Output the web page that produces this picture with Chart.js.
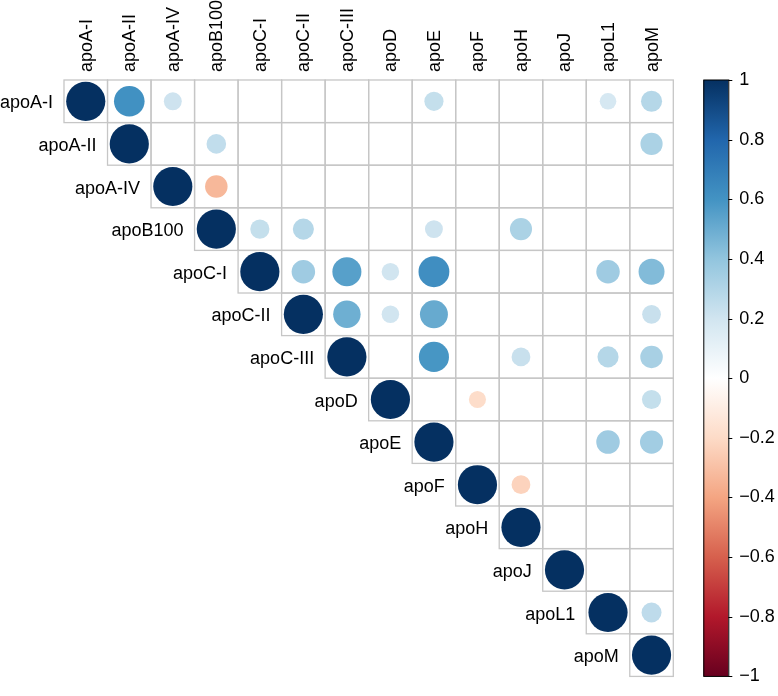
<!DOCTYPE html>
<html><head><meta charset="utf-8">
<script src="https://cdn.jsdelivr.net/npm/chart.js@4/dist/chart.umd.min.js"></script>
<style>html,body{margin:0;padding:0;background:#fff;overflow:hidden}canvas{display:block}</style>
</head><body><canvas id="c" width="778" height="696"></canvas>
<script>
const variables = ['apoA-I','apoA-II','apoA-IV','apoB100','apoC-I','apoC-II','apoC-III','apoD','apoE','apoF','apoH','apoJ','apoL1','apoM'];
// upper-triangle correlations, one array per row (null = blank cell)
const r_apoA_I   = [1, 0.61, 0.21, null, null, null, null, null, 0.24, null, null, null, 0.18, 0.29];
const r_apoA_II  = [null, 1, null, 0.25, null, null, null, null, null, null, null, null, null, 0.32];
const r_apoA_IV  = [null, null, 1, -0.33, null, null, null, null, null, null, null, null, null, null];
const r_apoB100  = [null, null, null, 1, 0.24, 0.29, null, null, 0.21, null, 0.32, null, null, null];
const r_apoC_I   = [null, null, null, null, 1, 0.36, 0.55, 0.20, 0.62, null, null, null, 0.36, 0.44];
const r_apoC_II  = [null, null, null, null, null, 1, 0.49, 0.20, 0.51, null, null, null, null, 0.23];
const r_apoC_III = [null, null, null, null, null, null, 1, null, 0.59, null, 0.23, null, 0.29, 0.33];
const r_apoD     = [null, null, null, null, null, null, null, 1, null, -0.19, null, null, null, 0.24];
const r_apoE     = [null, null, null, null, null, null, null, null, 1, null, null, null, 0.36, 0.35];
const r_apoF     = [null, null, null, null, null, null, null, null, null, 1, -0.23, null, null, null];
const r_apoH     = [null, null, null, null, null, null, null, null, null, null, 1, null, null, null];
const r_apoJ     = [null, null, null, null, null, null, null, null, null, null, null, 1, null, null];
const r_apoL1    = [null, null, null, null, null, null, null, null, null, null, null, null, 1, 0.26];
const r_apoM     = [null, null, null, null, null, null, null, null, null, null, null, null, null, 1];
const rows = [r_apoA_I, r_apoA_II, r_apoA_IV, r_apoB100, r_apoC_I, r_apoC_II, r_apoC_III, r_apoD, r_apoE, r_apoF, r_apoH, r_apoJ, r_apoL1, r_apoM];

const colorbarTickValues = [1, 0.8, 0.6, 0.4, 0.2, 0, -0.2, -0.4, -0.6, -0.8, -1];
const colorbarTickLabels = ['1', '0.8', '0.6', '0.4', '0.2', '0', '\u22120.2', '\u22120.4', '\u22120.6', '\u22120.8', '\u22121'];

// RdBu palette stops from -1 to 1
const paletteStops = ['#67001F','#B2182B','#D6604D','#F4A582','#FDDBC7','#FFFFFF','#D1E5F0','#92C5DE','#4393C3','#2166AC','#053061'];

function hexToRgb(h){return [parseInt(h.slice(1,3),16),parseInt(h.slice(3,5),16),parseInt(h.slice(5,7),16)];}
function colorFor(v){
  const t = (Math.max(-1, Math.min(1, v)) + 1) / 2 * (paletteStops.length - 1);
  const i = Math.min(Math.floor(t), paletteStops.length - 2);
  const f = t - i;
  const a = hexToRgb(paletteStops[i]), b = hexToRgb(paletteStops[i+1]);
  return 'rgb(' + a.map((c,k)=>Math.round(c + (b[k]-c)*f)).join(',') + ')';
}

const points = [];
rows.forEach((row, i) => row.forEach((v, j) => { if (v !== null) points.push({x: j, y: i, v: v}); }));

const FONT = '18px "Liberation Sans", Arial, sans-serif';

const corrPlugin = {
  id: 'corr',
  beforeDatasetsDraw(chart) {
    const {ctx, scales: {x, y}} = chart;
    ctx.save();
    ctx.strokeStyle = '#c6c6c6';
    ctx.lineWidth = 1.3;
    for (let i = 0; i < variables.length; i++) {
      for (let j = i; j < variables.length; j++) {
        const x0 = x.getPixelForValue(j - 0.5), x1 = x.getPixelForValue(j + 0.5);
        const y0 = y.getPixelForValue(i - 0.5), y1 = y.getPixelForValue(i + 0.5);
        ctx.strokeRect(x0, y0, x1 - x0, y1 - y0);
      }
    }
    ctx.restore();
  },
  afterDraw(chart) {
    const {ctx, scales: {x, y, cb}, chartArea} = chart;
    ctx.save();
    ctx.fillStyle = '#000';
    ctx.font = FONT;
    // column labels
    variables.forEach((name, j) => {
      const cx = x.getPixelForValue(j);
      ctx.save();
      ctx.translate(cx + 6, chartArea.top - 8);
      ctx.rotate(-Math.PI / 2);
      ctx.textAlign = 'left';
      ctx.textBaseline = 'alphabetic';
      ctx.fillText(name, 0, 0);
      ctx.restore();
    });
    // row labels beside diagonal
    variables.forEach((name, i) => {
      const xr = x.getPixelForValue(i - 0.5) - 11;
      const cy = y.getPixelForValue(i);
      ctx.textAlign = 'right';
      ctx.textBaseline = 'alphabetic';
      ctx.fillText(name, xr, cy + 7);
    });
    // colour bar
    const bx = chartArea.right + 30, bw = 25;
    const top = cb.getPixelForValue(1), bot = cb.getPixelForValue(-1);
    const g = ctx.createLinearGradient(0, bot, 0, top);
    paletteStops.forEach((c, k) => g.addColorStop(k / (paletteStops.length - 1), c));
    ctx.fillStyle = g;
    ctx.fillRect(bx, top, bw, bot - top);
    ctx.strokeStyle = '#000';
    ctx.lineWidth = 1;
    ctx.strokeRect(bx + 0.5, top, bw, bot - top);
    ctx.fillStyle = '#000';
    ctx.textAlign = 'left';
    ctx.textBaseline = 'middle';
    colorbarTickValues.forEach((v, k) => {
      const ty = Math.round(cb.getPixelForValue(v)) + 0.5;
      ctx.beginPath();
      ctx.moveTo(bx + bw, ty);
      ctx.lineTo(bx + bw + 4, ty);
      ctx.stroke();
      ctx.fillText(colorbarTickLabels[k], bx + bw + 11, ty);
    });
    ctx.restore();
  }
};

function cellRadius(ctx) {
  if (!ctx.raw || ctx.raw.v === undefined) return 0;
  const xs = ctx.chart.scales.x;
  if (!xs) return 0;
  const cell = Math.abs(xs.getPixelForValue(1) - xs.getPixelForValue(0));
  const r = 0.45 * cell * Math.sqrt(Math.abs(ctx.raw.v));
  return isFinite(r) ? r : 0;
}

const chart = new Chart(document.getElementById('c'), {
  type: 'scatter',
  data: {
    datasets: [{
      data: points,
      showLine: false,
      pointBackgroundColor: ctx => ctx.raw ? colorFor(ctx.raw.v) : 'transparent',
      pointBorderWidth: 0,
      pointHoverBorderWidth: 0,
      pointRadius: cellRadius,
      pointHoverRadius: cellRadius
    }]
  },
  options: {
    responsive: false,
    animation: false,
    events: [],
    layout: { padding: { left: 64, top: 80, right: 104.7, bottom: 6 } },
    plugins: { legend: { display: false }, tooltip: { enabled: false } },
    scales: {
      x: { type: 'linear', min: -0.5, max: 13.5, display: false },
      y: { type: 'linear', min: -0.5, max: 13.5, reverse: true, display: false },
      cb: { type: 'linear', axis: 'y', position: 'right', min: -1, max: 1, display: false }
    }
  },
  plugins: [corrPlugin]
});
chart.update('none');
</script>
</body></html>
